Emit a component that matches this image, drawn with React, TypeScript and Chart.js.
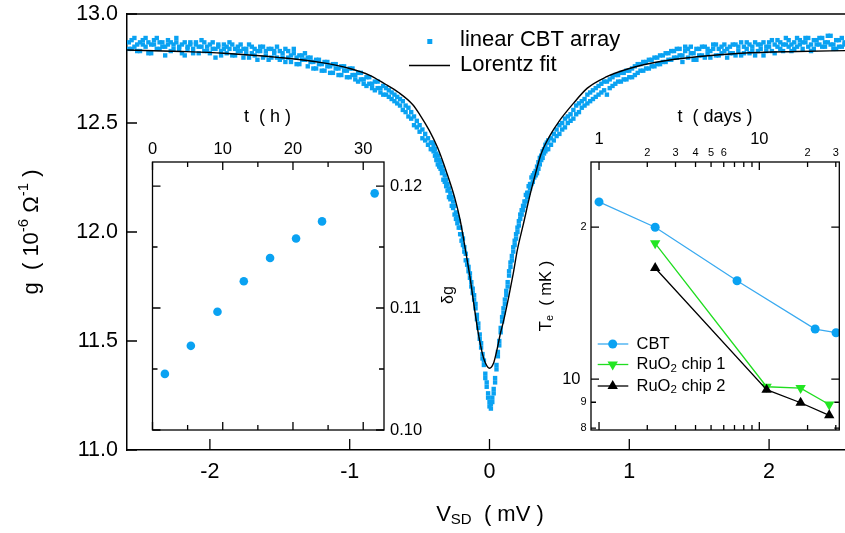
import React, { useEffect, useRef } from 'react';
import { Chart, registerables } from 'chart.js';

Chart.register(...registerables);

const FONT = '"Liberation Sans", Arial, Helvetica, sans-serif';
const BLUE = '#0aa2f2';

// ---------- main chart: conductance vs bias ----------
const vsd = [
  -2.58,-2.56,-2.54,-2.52,-2.5,-2.48,-2.46,-2.44,-2.42,-2.4,
  -2.38,-2.36,-2.34,-2.32,-2.3,-2.28,-2.26,-2.24,-2.22,-2.2,
  -2.18,-2.16,-2.14,-2.12,-2.1,-2.08,-2.06,-2.04,-2.02,-2,
  -1.98,-1.96,-1.94,-1.92,-1.9,-1.88,-1.86,-1.84,-1.82,-1.8,
  -1.78,-1.76,-1.74,-1.72,-1.7,-1.68,-1.66,-1.64,-1.62,-1.6,
  -1.58,-1.56,-1.54,-1.52,-1.5,-1.48,-1.46,-1.44,-1.42,-1.4,
  -1.38,-1.36,-1.34,-1.32,-1.3,-1.28,-1.26,-1.24,-1.22,-1.2,
  -1.18,-1.16,-1.14,-1.12,-1.1,-1.08,-1.06,-1.04,-1.02,-1,
  -0.98,-0.96,-0.94,-0.92,-0.9,-0.88,-0.86,-0.84,-0.82,-0.8,
  -0.78,-0.76,-0.74,-0.72,-0.7,-0.68,-0.66,-0.64,-0.62,-0.6,
  -0.58,-0.56,-0.54,-0.52,-0.5,-0.48,-0.46,-0.44,-0.42,
  -0.41,-0.4,-0.39,-0.38,-0.37,-0.36,-0.35,-0.34,-0.33,-0.32,
  -0.31,-0.3,-0.29,-0.28,-0.27,-0.26,-0.25,-0.24,-0.23,-0.22,
  -0.21,-0.2,-0.19,-0.18,-0.17,-0.16,-0.15,-0.14,-0.13,-0.12,
  -0.11,-0.1,-0.09,-0.08,-0.07,-0.06,-0.05,-0.04,-0.03,-0.02,
  -0.01,0,0.01,0.02,0.03,0.04,0.05,0.06,0.07,0.08,
  0.09,0.1,0.11,0.12,0.13,0.14,0.15,0.16,0.17,0.18,
  0.19,0.2,0.21,0.22,0.23,0.24,0.25,0.26,0.27,0.28,
  0.29,0.3,0.31,0.32,0.33,0.34,0.35,0.36,0.37,0.38,
  0.39,0.4,0.41,
  0.42,0.44,0.46,0.48,0.5,0.52,0.54,0.56,0.58,0.6,
  0.62,0.64,0.66,0.68,0.7,0.72,0.74,0.76,0.78,0.8,
  0.82,0.84,0.86,0.88,0.9,0.92,0.94,0.96,0.98,1,
  1.02,1.04,1.06,1.08,1.1,1.12,1.14,1.16,1.18,1.2,
  1.22,1.24,1.26,1.28,1.3,1.32,1.34,1.36,1.38,1.4,
  1.42,1.44,1.46,1.48,1.5,1.52,1.54,1.56,1.58,1.6,
  1.62,1.64,1.66,1.68,1.7,1.72,1.74,1.76,1.78,1.8,
  1.82,1.84,1.86,1.88,1.9,1.92,1.94,1.96,1.98,2,
  2.02,2.04,2.06,2.08,2.1,2.12,2.14,2.16,2.18,2.2,
  2.22,2.24,2.26,2.28,2.3,2.32,2.34,2.36,2.38,2.4,
  2.42,2.44,2.46,2.48,2.5,2.52,2.54,
];

const gSweep1 = [
  12.87,12.84,12.89,12.86,12.83,12.88,12.85,12.87,12.82,12.86,
  12.89,12.84,12.87,12.85,12.88,12.83,12.86,12.87,12.84,12.86,
  12.81,12.85,12.87,12.84,12.86,12.82,12.85,12.87,12.83,12.86,
  12.84,12.80,12.85,12.83,12.86,12.82,12.84,12.86,12.81,12.85,
  12.83,12.80,12.84,12.86,12.82,12.84,12.79,12.83,12.85,12.81,
  12.84,12.80,12.83,12.85,12.79,12.82,12.84,12.80,12.78,12.82,
  12.80,12.77,12.81,12.79,12.76,12.80,12.78,12.75,12.79,12.77,
  12.74,12.78,12.76,12.73,12.77,12.75,12.72,12.76,12.74,12.71,
  12.75,12.72,12.69,12.73,12.70,12.67,12.71,12.68,12.65,12.69,
  12.66,12.63,12.66,12.62,12.64,12.60,12.62,12.58,12.60,12.55,
  12.57,12.52,12.53,12.48,12.46,12.47,12.42,12.43,12.38,
  12.41,12.37,12.38,12.33,12.35,12.30,12.32,12.27,12.28,12.23,
  12.24,12.19,12.20,12.15,12.16,12.11,12.12,12.06,12.07,12.02,
  12.02,11.96,11.97,11.91,11.90,11.85,11.84,11.79,11.77,11.72,
  11.71,11.65,11.62,11.56,11.53,11.47,11.44,11.39,11.35,11.29,
  11.24,11.20,11.19,11.22,11.28,11.31,11.39,11.43,11.50,11.54,
  11.61,11.63,11.69,11.71,11.77,11.80,11.86,11.87,11.93,11.94,
  11.99,12.00,12.05,12.06,12.10,12.10,12.14,12.14,12.18,12.18,
  12.22,12.22,12.26,12.25,12.28,12.27,12.32,12.31,12.35,12.34,
  12.38,12.37,12.41,
  12.38,12.43,12.42,12.47,12.45,12.50,12.48,12.53,12.51,12.56,
  12.54,12.59,12.57,12.61,12.59,12.64,12.61,12.66,12.63,12.68,
  12.65,12.69,12.66,12.71,12.68,12.72,12.69,12.73,12.70,12.74,
  12.71,12.76,12.73,12.77,12.74,12.78,12.75,12.79,12.76,12.80,
  12.77,12.81,12.78,12.82,12.79,12.83,12.80,12.84,12.81,12.83,
  12.80,12.85,12.82,12.79,12.84,12.81,12.85,12.82,12.80,12.84,
  12.86,12.81,12.85,12.83,12.80,12.85,12.82,12.86,12.83,12.81,
  12.85,12.87,12.82,12.85,12.87,12.83,12.86,12.81,12.85,12.87,
  12.83,12.86,12.88,12.84,12.86,12.89,12.85,12.83,12.87,12.85,
  12.88,12.84,12.87,12.89,12.86,12.84,12.88,12.86,12.89,12.85,
  12.87,12.90,12.86,12.84,12.88,12.85,12.87,
];

const gSweep2 = [
  12.84,12.88,12.85,12.83,12.87,12.86,12.89,12.82,12.86,12.88,
  12.84,12.87,12.85,12.81,12.86,12.87,12.84,12.89,12.85,12.82,
  12.87,12.84,12.86,12.82,12.87,12.85,12.88,12.83,12.85,12.82,
  12.87,12.84,12.86,12.81,12.84,12.85,12.87,12.81,12.84,12.83,
  12.86,12.84,12.82,12.80,12.85,12.81,12.83,12.85,12.80,12.83,
  12.79,12.84,12.82,12.80,12.83,12.80,12.78,12.83,12.81,12.84,
  12.77,12.81,12.79,12.82,12.80,12.78,12.75,12.79,12.77,12.74,
  12.78,12.76,12.73,12.77,12.75,12.72,12.76,12.74,12.71,12.75,
  12.72,12.70,12.73,12.70,12.68,12.71,12.68,12.66,12.69,12.66,
  12.64,12.67,12.63,12.65,12.61,12.63,12.59,12.61,12.56,12.58,
  12.53,12.55,12.49,12.51,12.49,12.43,12.45,12.40,12.41,
  12.38,12.40,12.35,12.36,12.31,12.33,12.29,12.30,12.24,12.26,
  12.21,12.22,12.16,12.18,12.12,12.14,12.08,12.09,12.04,12.05,
  11.99,11.99,11.94,11.93,11.87,11.87,11.82,11.81,11.75,11.74,
  11.69,11.67,11.60,11.58,11.51,11.49,11.42,11.41,11.33,11.31,
  11.26,11.22,11.21,11.24,11.26,11.33,11.37,11.45,11.48,11.56,
  11.59,11.65,11.67,11.73,11.75,11.82,11.84,11.89,11.91,11.96,
  11.97,12.02,12.03,12.08,12.08,12.12,12.12,12.17,12.16,12.21,
  12.20,12.25,12.23,12.27,12.26,12.30,12.29,12.34,12.33,12.37,
  12.36,12.40,12.38,
  12.42,12.40,12.45,12.44,12.49,12.47,12.52,12.50,12.54,12.52,
  12.58,12.55,12.60,12.58,12.63,12.60,12.65,12.62,12.67,12.64,
  12.69,12.63,12.70,12.67,12.72,12.69,12.73,12.70,12.74,12.71,
  12.75,12.72,12.77,12.74,12.78,12.75,12.79,12.76,12.80,12.77,
  12.81,12.78,12.82,12.79,12.83,12.80,12.84,12.81,12.78,12.85,
  12.84,12.82,12.79,12.84,12.81,12.85,12.80,12.84,12.83,12.86,
  12.81,12.84,12.82,12.86,12.84,12.82,12.86,12.81,12.85,12.87,
  12.82,12.84,12.86,12.83,12.81,12.86,12.84,12.87,12.83,12.85,
  12.88,12.82,12.85,12.87,12.83,12.86,12.88,12.86,12.84,12.89,
  12.86,12.87,12.89,12.85,12.83,12.88,12.86,12.89,12.85,12.87,
  12.90,12.86,12.84,12.88,12.85,12.89,12.86,
];

const fitV = [-2.6,-2.2,-1.9,-1.5,-1.2,-1.0,-0.86,-0.75,-0.65,-0.55,-0.5,-0.43,-0.37,-0.31,-0.25,-0.21,-0.17,-0.14,-0.11,-0.08,-0.05,-0.03,0,0.03,0.05,0.08,0.1,0.14,0.17,0.2,0.24,0.29,0.33,0.37,0.43,0.5,0.6,0.7,0.83,1.0,1.2,1.5,1.8,2.2,2.55];
const fitG = [12.835,12.828,12.82,12.80,12.777,12.75,12.72,12.68,12.64,12.585,12.54,12.465,12.385,12.28,12.16,12.055,11.91,11.795,11.66,11.535,11.44,11.40,11.375,11.40,11.45,11.54,11.59,11.71,11.81,11.92,12.03,12.17,12.27,12.36,12.44,12.51,12.59,12.66,12.71,12.75,12.78,12.805,12.82,12.828,12.832];

const mainXTicks = [-2, -1, 0, 1, 2];
const mainYTicks = [11.0, 11.5, 12.0, 12.5, 13.0];

// ---------- inset 1: delta g vs time ----------
const tHours = [1.76, 5.46, 9.25, 13.0, 16.74, 20.44, 24.14, 31.63];
const deltaG = [0.1046, 0.1069, 0.1097, 0.1122, 0.1141, 0.1157, 0.1171, 0.1194];

// ---------- inset 2: Te vs days ----------
const tDaysCBT = [1.0, 2.24, 7.26, 22.3, 30.1];
const teCBT = [22.45, 20.0, 15.67, 12.57, 12.36];
const tDaysRuO2 = [2.24, 11.1, 18.1, 27.3];
const teChip1 = [18.58, 9.66, 9.60, 8.91];
const teChip2 = [16.6, 9.53, 8.98, 8.48];

const dayTicks = [1, 2, 3, 4, 5, 6, 7, 8, 9, 10, 20, 30];
const dayMajor = [1, 10];
const dayLabels: Record<number, string> = { 1: '1', 2: '2', 3: '3', 4: '4', 5: '5', 6: '6', 10: '10', 20: '2', 30: '3' };
const teTicks = [8, 9, 10, 20];
const teMajor = [10, 20];
const teLabels: Record<number, string> = { 8: '8', 9: '9', 10: '10', 20: '2' };

type Part = { t: string; size: number; dy?: number };

function drawRich(ctx: CanvasRenderingContext2D, parts: Part[], x: number, y: number, align: 'left' | 'center' | 'right') {
  let w = 0;
  for (const p of parts) {
    ctx.font = `${p.size}px ${FONT}`;
    w += ctx.measureText(p.t).width;
  }
  let cx = align === 'left' ? x : align === 'center' ? x - w / 2 : x - w;
  ctx.textAlign = 'left';
  ctx.textBaseline = 'middle';
  for (const p of parts) {
    ctx.font = `${p.size}px ${FONT}`;
    ctx.fillText(p.t, cx, y + (p.dy || 0));
    cx += ctx.measureText(p.t).width;
  }
}

function isMult(v: number, step: number) {
  const r = v / step;
  return Math.abs(r - Math.round(r)) < 1e-6;
}

// pin a scale's size and drop Chart.js' label-overflow padding
function pin(size: number, horizontal: boolean) {
  return (s: any) => {
    if (horizontal) s.height = size; else s.width = size;
    s.paddingTop = 0;
    s.paddingBottom = 0;
    s.paddingLeft = 0;
    s.paddingRight = 0;
  };
}

const mainDecor = {
  id: 'mainDecor',
  afterDraw(chart: any) {
    const { ctx, chartArea: a, scales } = chart;
    const x = scales.x, y = scales.y;
    ctx.save();
    ctx.strokeStyle = '#000';
    ctx.lineWidth = 1.5;
    ctx.beginPath();
    ctx.moveTo(a.left, a.top);
    ctx.lineTo(a.right, a.top);
    ctx.stroke();
    ctx.lineWidth = 1.3;
    ctx.beginPath();
    for (const v of mainXTicks) {
      const px = x.getPixelForValue(v);
      ctx.moveTo(px, a.bottom);
      ctx.lineTo(px, a.bottom - 11);
    }
    for (const v of mainYTicks) {
      const py = y.getPixelForValue(v);
      ctx.moveTo(a.left, py);
      ctx.lineTo(a.left + 10, py);
    }
    ctx.stroke();

    // legend
    ctx.fillStyle = BLUE;
    ctx.fillRect(427.3, 39, 5, 5);
    ctx.fillStyle = '#000';
    ctx.font = `22px ${FONT}`;
    ctx.textAlign = 'left';
    ctx.textBaseline = 'middle';
    ctx.fillText('linear CBT array', 460, 40);
    ctx.lineWidth = 1.3;
    ctx.beginPath();
    ctx.moveTo(409, 65.5);
    ctx.lineTo(450, 65.5);
    ctx.stroke();
    ctx.fillText('Lorentz fit', 460, 65);

    // axis titles
    drawRich(ctx, [{ t: 'V', size: 22 }, { t: 'SD', size: 15, dy: 5 }, { t: '  ( mV )', size: 22 }], 490, 515, 'center');
    ctx.translate(32, 232);
    ctx.rotate(-Math.PI / 2);
    drawRich(ctx, [
      { t: 'g  ( 10', size: 22 },
      { t: '-6', size: 15, dy: -8 },
      { t: ' Ω', size: 22 },
      { t: '-1', size: 15, dy: -8 },
      { t: ' )', size: 22 },
    ], 0, 0, 'center');
    ctx.restore();
  },
};

const inset1Decor = {
  id: 'inset1Decor',
  afterDraw(chart: any) {
    const { ctx, chartArea: a, scales } = chart;
    const x = scales.x, y = scales.y;
    ctx.save();
    ctx.strokeStyle = '#000';
    ctx.lineWidth = 1.3;
    ctx.strokeRect(a.left, a.top, a.right - a.left, a.bottom - a.top);
    ctx.beginPath();
    for (const t of x.ticks) {
      const v = t.value;
      if (!isMult(v, 5)) continue;
      const len = isMult(v, 10) ? 8 : 5;
      const px = x.getPixelForValue(v);
      ctx.moveTo(px, a.top); ctx.lineTo(px, a.top + len);
      ctx.moveTo(px, a.bottom); ctx.lineTo(px, a.bottom - len);
    }
    for (const t of y.ticks) {
      const v = t.value;
      if (!isMult(v, 0.005)) continue;
      const len = isMult(v, 0.01) ? 8 : 5;
      const py = y.getPixelForValue(v);
      ctx.moveTo(a.left, py); ctx.lineTo(a.left + len, py);
      ctx.moveTo(a.right, py); ctx.lineTo(a.right - len, py);
    }
    ctx.stroke();
    ctx.fillStyle = '#000';
    ctx.font = `18px ${FONT}`;
    ctx.textAlign = 'center';
    ctx.textBaseline = 'middle';
    ctx.fillText('t  ( h )', 267.5, 117);
    ctx.translate(449, 295);
    ctx.rotate(-Math.PI / 2);
    ctx.font = `16px ${FONT}`;
    ctx.fillText('δg', 0, 0);
    ctx.restore();
  },
};

function marker(ctx: CanvasRenderingContext2D, style: string, cx: number, cy: number, r: number, rot: number, color: string) {
  ctx.fillStyle = color;
  ctx.beginPath();
  if (style === 'circle') {
    ctx.arc(cx, cy, r, 0, Math.PI * 2);
  } else {
    let ang = (rot * Math.PI) / 180;
    for (let k = 0; k < 3; k++) {
      const px = cx + Math.sin(ang) * r;
      const py = cy - Math.cos(ang) * r;
      if (k === 0) ctx.moveTo(px, py); else ctx.lineTo(px, py);
      ang += (2 * Math.PI) / 3;
    }
    ctx.closePath();
  }
  ctx.fill();
}

const CBT_LINE = '#3aaaf0';
const GREEN = '#22e622';
const GREEN_LINE = '#20dd20';

const inset2Decor = {
  id: 'inset2Decor',
  afterDraw(chart: any) {
    const { ctx, chartArea: a, scales } = chart;
    const x = scales.x, y = scales.y;
    ctx.save();
    ctx.strokeStyle = '#000';
    ctx.lineWidth = 1.3;
    ctx.strokeRect(a.left, a.top, a.right - a.left, a.bottom - a.top);
    ctx.beginPath();
    for (const v of dayTicks) {
      const px = x.getPixelForValue(v);
      const len = dayMajor.includes(v) ? 8 : 5;
      ctx.moveTo(px, a.top); ctx.lineTo(px, a.top + len);
      ctx.moveTo(px, a.bottom); ctx.lineTo(px, a.bottom - len);
    }
    for (const v of teTicks) {
      const py = y.getPixelForValue(v);
      const len = teMajor.includes(v) ? 8 : 5;
      ctx.moveTo(a.left, py); ctx.lineTo(a.left + len, py);
      ctx.moveTo(a.right, py); ctx.lineTo(a.right - len, py);
    }
    ctx.stroke();

    ctx.fillStyle = '#000';
    ctx.textBaseline = 'middle';
    ctx.textAlign = 'center';
    for (const v of dayTicks) {
      const lab = dayLabels[v];
      if (!lab) continue;
      const px = x.getPixelForValue(v);
      if (dayMajor.includes(v)) {
        ctx.font = `16.5px ${FONT}`;
        ctx.fillText(lab, px, 139);
      } else {
        ctx.font = `11px ${FONT}`;
        ctx.fillText(lab, px, 153.3);
      }
    }
    ctx.textAlign = 'right';
    for (const v of teTicks) {
      const lab = teLabels[v];
      const py = y.getPixelForValue(v);
      if (v === 10) {
        ctx.font = `16.5px ${FONT}`;
        ctx.fillText(lab, a.left - 10.5, py);
      } else {
        ctx.font = `11px ${FONT}`;
        ctx.fillText(lab, a.left - 4.5, py);
      }
    }
    ctx.textAlign = 'center';
    ctx.font = `18px ${FONT}`;
    ctx.fillText('t  ( days )', 715, 117);

    // legend
    const entries = [
      { y: 344, color: CBT_LINE, mcolor: BLUE, style: 'circle', r: 4.5, rot: 0, parts: [{ t: 'CBT', size: 16.5 }] },
      { y: 364.5, color: GREEN_LINE, mcolor: GREEN, style: 'triangle', r: 6, rot: 180, parts: [{ t: 'RuO', size: 16.5 }, { t: '2', size: 11.5, dy: 4 }, { t: ' chip 1', size: 16.5 }] },
      { y: 386, color: '#000', mcolor: '#000', style: 'triangle', r: 6, rot: 0, parts: [{ t: 'RuO', size: 16.5 }, { t: '2', size: 11.5, dy: 4 }, { t: ' chip 2', size: 16.5 }] },
    ];
    for (const e of entries) {
      ctx.strokeStyle = e.color;
      ctx.lineWidth = 1.3;
      ctx.beginPath();
      ctx.moveTo(597.7, e.y);
      ctx.lineTo(628.3, e.y);
      ctx.stroke();
      marker(ctx, e.style, 612.7, e.y, e.r, e.rot, e.mcolor);
      ctx.fillStyle = '#000';
      drawRich(ctx, e.parts, 636.5, e.y, 'left');
    }

    // y title
    ctx.fillStyle = '#000';
    ctx.translate(546, 296);
    ctx.rotate(-Math.PI / 2);
    drawRich(ctx, [{ t: 'T', size: 16.5 }, { t: 'e', size: 11, dy: 4 }, { t: '  ( mK )', size: 16.5 }], 0, 0, 'center');
    ctx.restore();
  },
};

export default function App() {
  const mainRef = useRef<HTMLCanvasElement>(null);
  const in1Ref = useRef<HTMLCanvasElement>(null);
  const in2Ref = useRef<HTMLCanvasElement>(null);

  useEffect(() => {
    const tickFont = { family: FONT, size: 21.5 };
    const main = new Chart(mainRef.current!, {
      type: 'scatter',
      data: {
        datasets: [
          {
            type: 'line',
            label: 'Lorentz fit',
            data: fitV.map((v, i) => ({ x: v, y: fitG[i] })),
            borderColor: '#000',
            borderWidth: 1.4,
            pointRadius: 0,
            cubicInterpolationMode: 'monotone',
            fill: false,
            order: 0,
          } as any,
          {
            label: 'linear CBT array',
            data: vsd.map((v, i) => ({ x: v, y: gSweep1[i] })),
            pointStyle: 'rect',
            pointRadius: 3.1,
            pointBorderWidth: 0,
            backgroundColor: BLUE,
            borderColor: BLUE,
            order: 1,
          },
          {
            label: 'linear CBT array (2)',
            data: vsd.map((v, i) => ({ x: v, y: gSweep2[i] })),
            pointStyle: 'rect',
            pointRadius: 3.1,
            pointBorderWidth: 0,
            backgroundColor: BLUE,
            borderColor: BLUE,
            order: 2,
          },
        ],
      },
      options: {
        responsive: false,
        animation: false,
        devicePixelRatio: 1,
        layout: { autoPadding: false, padding: { left: 0, right: 0, top: 14, bottom: 0 } },
        plugins: { legend: { display: false }, tooltip: { enabled: false } },
        scales: {
          x: {
            type: 'linear',
            position: 'bottom',
            min: -2.593,
            max: 2.543,
            afterFit: pin(83, true),
            afterBuildTicks: (s: any) => { s.ticks = mainXTicks.map((v) => ({ value: v })); },
            grid: { display: false, drawTicks: false },
            border: { display: true, color: '#000', width: 1.5 },
            ticks: { color: '#000', font: tickFont, padding: 9, autoSkip: false, maxRotation: 0, callback: (v: any) => String(v) },
          },
          y: {
            type: 'linear',
            position: 'left',
            min: 11,
            max: 13,
            afterFit: pin(127, false),
            afterBuildTicks: (s: any) => { s.ticks = mainYTicks.map((v) => ({ value: v })); },
            grid: { display: false, drawTicks: false },
            border: { display: true, color: '#000', width: 1.5 },
            ticks: { color: '#000', font: tickFont, padding: 9, autoSkip: false, callback: (v: any) => Number(v).toFixed(1) },
          },
        },
      } as any,
      plugins: [mainDecor],
    });

    const insetFont = { family: FONT, size: 16.5 };
    const in1 = new Chart(in1Ref.current!, {
      type: 'scatter',
      data: {
        datasets: [
          {
            label: 'δg',
            data: tHours.map((t, i) => ({ x: t, y: deltaG[i] })),
            pointStyle: 'circle',
            pointRadius: 4.3,
            pointBorderWidth: 0,
            backgroundColor: BLUE,
          },
        ],
      },
      options: {
        responsive: false,
        animation: false,
        devicePixelRatio: 1,
        layout: { autoPadding: false, padding: { left: 152.5, right: 411, top: 132, bottom: 103 } },
        plugins: { legend: { display: false }, tooltip: { enabled: false } },
        scales: {
          x: {
            type: 'linear',
            position: 'top',
            min: 0,
            max: 32.96,
            afterFit: pin(30, true),
            grid: { display: false, drawTicks: false },
            border: { display: false },
            ticks: {
              stepSize: 5, includeBounds: false, autoSkip: false, maxRotation: 0, padding: 2.6,
              color: '#000', font: insetFont,
              callback: (v: any) => (isMult(Number(v), 10) ? String(Math.round(Number(v))) : ''),
            },
          },
          y: {
            type: 'linear',
            position: 'right',
            min: 0.1,
            max: 0.12197,
            afterFit: pin(50, false),
            grid: { display: false, drawTicks: false },
            border: { display: false },
            ticks: {
              stepSize: 0.005, includeBounds: false, autoSkip: false, padding: 6,
              color: '#000', font: insetFont,
              callback: (v: any) => (isMult(Number(v), 0.01) ? Number(v).toFixed(2) : ''),
            },
          },
        },
      } as any,
      plugins: [inset1Decor],
    });

    const in2 = new Chart(in2Ref.current!, {
      type: 'scatter',
      data: {
        datasets: [
          {
            label: 'CBT',
            data: tDaysCBT.map((t, i) => ({ x: t, y: teCBT[i] })),
            showLine: true,
            borderColor: CBT_LINE,
            borderWidth: 1.3,
            pointStyle: 'circle',
            pointRadius: 4.5,
            pointBorderWidth: 0,
            pointBackgroundColor: BLUE,
            order: 2,
          },
          {
            label: 'RuO2 chip 1',
            data: tDaysRuO2.map((t, i) => ({ x: t, y: teChip1[i] })),
            showLine: true,
            borderColor: GREEN_LINE,
            borderWidth: 1.3,
            pointStyle: 'triangle',
            pointRotation: 180,
            pointRadius: 6,
            pointBorderWidth: 0,
            pointBackgroundColor: GREEN,
            order: 1,
          },
          {
            label: 'RuO2 chip 2',
            data: tDaysRuO2.map((t, i) => ({ x: t, y: teChip2[i] })),
            showLine: true,
            borderColor: '#000',
            borderWidth: 1.3,
            pointStyle: 'triangle',
            pointRadius: 6,
            pointBorderWidth: 0,
            pointBackgroundColor: '#000',
            order: 0,
          },
        ],
      },
      options: {
        responsive: false,
        animation: false,
        devicePixelRatio: 1,
        layout: { autoPadding: false, padding: { left: 551, right: 5.7, top: 132, bottom: 103 } },
        plugins: { legend: { display: false }, tooltip: { enabled: false } },
        scales: {
          x: {
            type: 'logarithmic',
            position: 'top',
            min: 0.891,
            max: 31.55,
            afterFit: pin(30, true),
            grid: { display: false, drawTicks: false },
            border: { display: false },
            ticks: { display: false },
          },
          y: {
            type: 'logarithmic',
            position: 'left',
            min: 7.93,
            max: 26.93,
            afterFit: pin(40, false),
            grid: { display: false, drawTicks: false },
            border: { display: false },
            ticks: { display: false },
          },
        },
      } as any,
      plugins: [inset2Decor],
    });

    return () => {
      main.destroy();
      in1.destroy();
      in2.destroy();
    };
  }, []);

  const cs: React.CSSProperties = { position: 'absolute', left: 0, top: 0, width: 845, height: 533 };
  return (
    <div style={{ position: 'fixed', left: 0, top: 0, width: 845, height: 533, background: '#fff', overflow: 'hidden' }}>
      <canvas ref={mainRef} width={845} height={533} style={cs} />
      <canvas ref={in1Ref} width={845} height={533} style={cs} />
      <canvas ref={in2Ref} width={845} height={533} style={cs} />
    </div>
  );
}
